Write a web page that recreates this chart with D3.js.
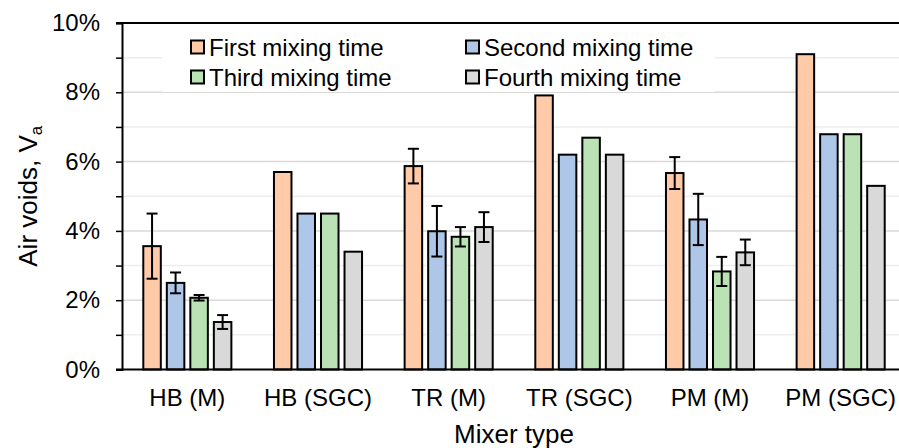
<!DOCTYPE html>
<html>
<head>
<meta charset="utf-8">
<script src="https://cdn.jsdelivr.net/npm/d3@7"></script>
<style>
  html, body { margin: 0; padding: 0; background: #fff; }
  svg { display: block; font-family: "Liberation Sans", Arial, sans-serif; }
</style>
</head>
<body>
<svg id="chart" width="899" height="448"></svg>
<script>
// Mixer types along the x axis
const categories = ["HB (M)", "HB (SGC)", "TR (M)", "TR (SGC)", "PM (M)", "PM (SGC)"];
// Series names (legend order)
const seriesNames = ["First mixing time", "Second mixing time", "Third mixing time", "Fourth mixing time"];
// Air voids (%) per mixing time
const firstMix  = [3.56, 5.70, 5.87, 7.91, 5.67, 9.10];
const secondMix = [2.50, 4.50, 3.99, 6.20, 4.33, 6.79];
const thirdMix  = [2.07, 4.50, 3.83, 6.69, 2.83, 6.79];
const fourthMix = [1.37, 3.40, 4.11, 6.20, 3.38, 5.30];
// Error bar half-widths (%), null where no error bar is shown
const firstErr  = [0.94, null, 0.50, null, 0.46, null];
const secondErr = [0.30, null, 0.73, null, 0.74, null];
const thirdErr  = [0.08, null, 0.28, null, 0.42, null];
const fourthErr = [0.20, null, 0.43, null, 0.37, null];
// Y axis tick values (%)
const yTickValues = [0, 1, 2, 3, 4, 5, 6, 7, 8, 9, 10];
const yLabelValues = [0, 2, 4, 6, 8, 10];

const seriesValues = [firstMix, secondMix, thirdMix, fourthMix];
const seriesErrors = [firstErr, secondErr, thirdErr, fourthErr];
const colors = ["#ffcaa8", "#aec7e8", "#bbe2b4", "#d9d9d9"];
const FONT = 24;
const TITLE_FONT = 26;

const rows = [];
categories.forEach((c, i) => {
  seriesNames.forEach((s, j) => {
    rows.push({ cat: c, series: s, value: seriesValues[j][i], err: seriesErrors[j][i], color: colors[j] });
  });
});

const svg = d3.select("#chart");
const plotLeft = 122, plotRight = 906, plotTop = 23, plotBottom = 369.5;

const y = d3.scaleLinear().domain([0, 10]).range([plotBottom, plotTop]);
const x0 = d3.scaleBand().domain(categories).range([plotLeft, plotRight])
  .paddingInner(0.28).paddingOuter(0.14);
const x1 = d3.scaleBand().domain(seriesNames).range([0, x0.bandwidth()])
  .paddingInner(0.17).paddingOuter(0.085);

// Gridlines: darker every 2%, lighter at odd percentages
svg.append("g").selectAll("line")
  .data(yTickValues.filter(v => v > 0 && v < 10))
  .join("line")
  .attr("x1", plotLeft).attr("x2", 899)
  .attr("y1", d => y(d)).attr("y2", d => y(d))
  .attr("stroke", d => d % 2 === 0 ? "#d9d9d9" : "#ededed")
  .attr("stroke-width", 1.5);

// Top border of the plot area
svg.append("line")
  .attr("x1", 116).attr("x2", 899)
  .attr("y1", y(10)).attr("y2", y(10))
  .attr("stroke", "#000").attr("stroke-width", 2);

// Legend background
const legend = svg.append("g");
legend.append("rect")
  .attr("x", 162).attr("y", 27).attr("width", 553).attr("height", 65)
  .attr("fill", "#fff");

// Bars
svg.append("g").selectAll("rect")
  .data(rows)
  .join("rect")
  .attr("x", d => x0(d.cat) + x1(d.series) + 1)
  .attr("y", d => y(d.value))
  .attr("width", x1.bandwidth() - 2)
  .attr("height", d => y(0) - y(d.value))
  .attr("fill", d => d.color)
  .attr("stroke", "#000")
  .attr("stroke-width", 2);

// Error bars
const errRows = rows.filter(d => d.err != null);
const eg = svg.append("g").attr("stroke", "#000").attr("stroke-width", 2);
errRows.forEach(d => {
  const cx = x0(d.cat) + x1(d.series) + x1.bandwidth() / 2;
  const yt = y(d.value + d.err), yb = y(d.value - d.err);
  eg.append("line").attr("x1", cx).attr("x2", cx).attr("y1", yt).attr("y2", yb);
  eg.append("line").attr("x1", cx - 5.5).attr("x2", cx + 5.5).attr("y1", yt).attr("y2", yt);
  eg.append("line").attr("x1", cx - 5.5).attr("x2", cx + 5.5).attr("y1", yb).attr("y2", yb);
});

// Y axis
const yAxis = d3.axisLeft(y)
  .tickValues(yTickValues)
  .tickSize(6)
  .tickPadding(16)
  .tickFormat(d => yLabelValues.includes(d) ? d + "%" : "");
const yg = svg.append("g").attr("transform", `translate(${plotLeft},0)`).call(yAxis);
yg.select(".domain").attr("stroke", "#000").attr("stroke-width", 2);
yg.selectAll(".tick line").attr("stroke", "#000").attr("stroke-width", 1.5);
yg.selectAll(".tick text").attr("font-size", FONT).attr("fill", "#000")
  .attr("font-family", "Liberation Sans, Arial, sans-serif");

// X axis
const xAxis = d3.axisBottom(x0).tickSize(0).tickPadding(19);
const xg = svg.append("g").attr("transform", `translate(0,${plotBottom})`).call(xAxis);
xg.select(".domain").remove();
xg.selectAll(".tick text").attr("font-size", FONT).attr("fill", "#000")
  .attr("font-family", "Liberation Sans, Arial, sans-serif");
svg.append("line")
  .attr("x1", 116).attr("x2", 899)
  .attr("y1", plotBottom).attr("y2", plotBottom)
  .attr("stroke", "#000").attr("stroke-width", 2);

// Axis titles
svg.append("text")
  .attr("x", (plotLeft + plotRight) / 2).attr("y", 443)
  .attr("text-anchor", "middle").attr("font-size", TITLE_FONT).attr("fill", "#000")
  .text("Mixer type");

const yt = svg.append("text")
  .attr("transform", `translate(37,${(plotTop + plotBottom) / 2}) rotate(-90)`)
  .attr("text-anchor", "middle").attr("font-size", TITLE_FONT).attr("fill", "#000");
yt.append("tspan").text("Air voids, V");
yt.append("tspan").attr("font-size", 17).attr("dy", 5).text("a");

// Legend entries
const legendPos = [
  { x: 191, y: 47 }, { x: 466, y: 47 },
  { x: 191, y: 77 }, { x: 466, y: 77 }
];
seriesNames.forEach((s, j) => {
  const p = legendPos[j];
  legend.append("rect")
    .attr("x", p.x).attr("y", p.y - 6.5).attr("width", 13).attr("height", 13)
    .attr("fill", colors[j]).attr("stroke", "#000").attr("stroke-width", 2);
  legend.append("text")
    .attr("x", p.x + 18).attr("y", p.y + 8.5)
    .attr("font-size", FONT).attr("fill", "#000")
    .text(s);
});
</script>
</body>
</html>
